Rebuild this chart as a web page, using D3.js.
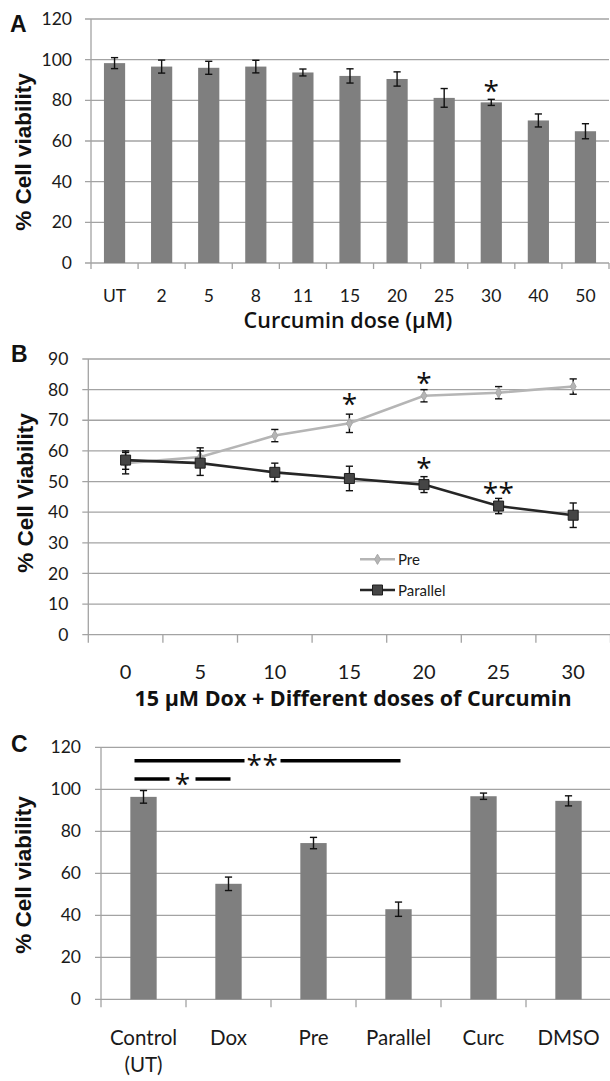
<!DOCTYPE html>
<html>
<head>
<meta charset="utf-8">
<script src="https://cdn.jsdelivr.net/npm/d3@7"></script>
<style>
body { margin: 0; background: #fff; }
svg text { fill: #1a1a1a; }
.tick text, .cat-label { font-family: Lato, 'Open Sans', sans-serif; }
.axis-title { font-family: 'Liberation Sans', Arial, sans-serif; font-weight: bold; fill: #111; }
.x-title { font-family: 'Open Sans', Lato, sans-serif; fill: #111; }
.star { font-family: 'Open Sans', sans-serif; fill: #111; }
</style>
</head>
<body>
<div id="figure"></div>
<script>
// Panel A: curcumin alone
var doseLabelsA = ['UT', '2', '5', '8', '11', '15', '20', '25', '30', '40', '50'];
var viabilityA = [98.3, 96.6, 96, 96.6, 93.7, 92, 90.5, 81.2, 79, 70.1, 64.8];
var errorA = [2.7, 3.2, 3.2, 3.1, 1.7, 3.5, 3.5, 4.6, 1.5, 3.2, 3.7];
var yTicksA = [0, 20, 40, 60, 80, 100, 120];
var starsA = [{ label: '30', mark: '*', at: 86.6 }];

// Panel B: dox + curcumin, pre vs parallel
var doseLabelsB = ['0', '5', '10', '15', '20', '25', '30'];
var seriesNamesB = ['Pre', 'Parallel'];
var preValuesB = [56, 58, 65, 69, 78, 79, 81];
var preErrorB = [3.5, 3, 2, 3, 2, 2, 2.5];
var parallelValuesB = [57, 56, 53, 51, 49, 42, 39];
var parallelErrorB = [3, 4, 3, 4, 2.6, 2.5, 4];
var yTicksB = [0, 10, 20, 30, 40, 50, 60, 70, 80, 90];
var starsB = [
	{ series: 'Pre', label: '15', mark: '*', at: 76.7 },
	{ series: 'Pre', label: '20', mark: '*', at: 83.8 },
	{ series: 'Parallel', label: '20', mark: '*', at: 56 },
	{ series: 'Parallel', label: '25', mark: '**', at: 47.6 }
];

// Panel C: treatment groups
var groupLabelsC = ['Control\n(UT)', 'Dox', 'Pre', 'Parallel', 'Curc', 'DMSO'];
var viabilityC = [96.4, 55, 74.4, 42.9, 96.7, 94.5];
var errorC = [3, 3.2, 2.7, 3.4, 1.5, 2.4];
var yTicksC = [0, 20, 40, 60, 80, 100, 120];
var bracketsC = [
	{ from: 'Control\n(UT)', to: 'Parallel', mark: '**', at: 113.6 },
	{ from: 'Control\n(UT)', to: 'Dox', mark: '*', at: 104.9 }
];

var GRID = '#a3a3a3';
var BAR = '#7f7f7f';
var STAR_SIZE = 28;

var svg = d3.select('#figure')
	.append('svg')
	.attr('width', 610)
	.attr('height', 1081);

svg.append('rect').attr('width', 610).attr('height', 1081).attr('fill', '#fff');

/*
 * Shared frame: gridlines, y axis, category ticks, labels, titles.
 */
var renderFrame = function(config, xScale, yScale) {
	var g = config.g;

	g.append('g')
		.attr('class', 'grid')
		.selectAll('line')
		.data(config.yTicks)
		.enter()
		.append('line')
		.attr('x1', config.left - 6)
		.attr('x2', config.right)
		.attr('y1', function(d) { return yScale(d); })
		.attr('y2', function(d) { return yScale(d); })
		.attr('stroke', GRID)
		.attr('stroke-width', 1.3);

	g.append('line')
		.attr('x1', config.left)
		.attr('x2', config.left)
		.attr('y1', config.top)
		.attr('y2', config.bottom + config.tickLen)
		.attr('stroke', GRID)
		.attr('stroke-width', 1.3);

	// tick marks between categories
	var edges = xScale.domain().map(function(d) { return xScale(d); });
	edges.push(config.right);
	g.append('g')
		.selectAll('line')
		.data(edges.slice(1))
		.enter()
		.append('line')
		.attr('x1', function(d) { return d; })
		.attr('x2', function(d) { return d; })
		.attr('y1', config.bottom)
		.attr('y2', config.bottom + config.tickLen)
		.attr('stroke', GRID)
		.attr('stroke-width', 1.3);

	var yAxis = d3.axisLeft(yScale)
		.tickValues(config.yTicks)
		.tickSize(0)
		.tickPadding(config.yPad);

	var ya = g.append('g')
		.attr('transform', 'translate(' + config.left + ',0)')
		.call(yAxis);
	ya.select('.domain').remove();
	ya.selectAll('text')
		.style('font-size', config.yFont + 'px')
		.attr('fill', '#1a1a1a');

	var xAxis = d3.axisBottom(xScale)
		.tickSize(0)
		.tickPadding(config.xPad);

	var xa = g.append('g')
		.attr('transform', 'translate(0,' + config.bottom + ')')
		.call(xAxis);
	xa.select('.domain').remove();
	xa.selectAll('text')
		.style('font-size', config.xFont + 'px')
		.attr('fill', '#1a1a1a')
		.each(function(d) {
			var el = d3.select(this);
			var lines = d.split('\n');
			if (lines.length > 1) {
				el.text(null);
				lines.forEach(function(line, i) {
					el.append('tspan')
						.attr('x', 0)
						.attr('dy', i == 0 ? '0.71em' : '1.3em')
						.text(line);
				});
				el.attr('dy', null);
			}
		});

	// y title
	g.append('text')
		.attr('class', 'axis-title')
		.attr('transform', 'translate(' + config.yTitleX + ',' + config.yTitleY + ') rotate(-90)')
		.attr('text-anchor', 'middle')
		.style('font-size', '22.5px')
		.text(config.yTitle);

	// x title
	if (config.xTitle) {
		g.append('text')
			.attr('class', 'x-title')
			.attr('x', config.xTitleX)
			.attr('y', config.xTitleY)
			.attr('text-anchor', 'middle')
			.style('font-size', config.xTitleFont + 'px')
			.style('font-weight', config.xTitleWeight)
			.text(config.xTitle);
	}

	// panel letter
	g.append('text')
		.attr('class', 'axis-title')
		.attr('x', config.letterX)
		.attr('y', config.letterY)
		.style('font-size', '23px')
		.text(config.letter);
};

var drawErrorBar = function(g, x, yScale, v, e) {
	var cap = 3.6;
	g.append('line')
		.attr('x1', x).attr('x2', x)
		.attr('y1', yScale(v + e)).attr('y2', yScale(v - e))
		.attr('stroke', '#111').attr('stroke-width', 1.4);
	[v + e, v - e].forEach(function(c) {
		g.append('line')
			.attr('x1', x - cap).attr('x2', x + cap)
			.attr('y1', yScale(c)).attr('y2', yScale(c))
			.attr('stroke', '#111').attr('stroke-width', 1.4);
	});
};

var drawStar = function(g, x, y, mark) {
	g.append('text')
		.attr('class', 'star')
		.attr('x', x)
		.attr('y', y + STAR_SIZE * 0.52)
		.attr('text-anchor', 'middle')
		.style('font-size', STAR_SIZE + 'px')
		.style('letter-spacing', mark.length > 1 ? '0.5px' : null)
		.text(mark);
};

/*
 * Bar chart with error bars (panels A and C).
 */
var renderBarPanel = function(config) {
	var g = svg.append('g');
	config.g = g;

	var xScale = d3.scaleBand()
		.domain(config.labels)
		.range([config.left, config.right])
		.padding(0);

	var yScale = d3.scaleLinear()
		.domain([0, config.yMax])
		.range([config.bottom, config.top]);

	renderFrame(config, xScale, yScale);

	var bw = xScale.bandwidth() * config.barRatio;

	g.append('g')
		.selectAll('rect')
		.data(config.values)
		.enter()
		.append('rect')
		.attr('x', function(d, i) { return xScale(config.labels[i]) + (xScale.bandwidth() - bw) / 2; })
		.attr('width', bw)
		.attr('y', function(d) { return yScale(d); })
		.attr('height', function(d) { return config.bottom - yScale(d); })
		.attr('fill', BAR);

	var eg = g.append('g');
	config.values.forEach(function(v, i) {
		var cx = xScale(config.labels[i]) + xScale.bandwidth() / 2;
		drawErrorBar(eg, cx, yScale, v, config.errors[i]);
	});

	(config.stars || []).forEach(function(s) {
		drawStar(g, xScale(s.label) + xScale.bandwidth() / 2, yScale(s.at), s.mark);
	});

	(config.brackets || []).forEach(function(b) {
		var x1 = xScale(b.from) + xScale.bandwidth() / 2 - 9;
		var x2 = xScale(b.to) + xScale.bandwidth() / 2 + 2;
		var mid = (x1 + x2) / 2 - (b.mark.length > 1 ? 5 : 0);
		var gap = 16 + 10 * b.mark.length;
		var y = yScale(b.at);
		[[x1, mid - gap / 2], [mid + gap / 2, x2]].forEach(function(seg) {
			g.append('line')
				.attr('x1', seg[0]).attr('x2', seg[1])
				.attr('y1', y).attr('y2', y)
				.attr('stroke', '#000')
				.attr('stroke-width', 3.3);
		});
		drawStar(g, mid, y, b.mark);
	});
};

/*
 * Line chart with error bars (panel B).
 */
var renderLinePanel = function(config) {
	var g = svg.append('g');
	config.g = g;

	var xScale = d3.scaleBand()
		.domain(config.labels)
		.range([config.left, config.right])
		.padding(0);

	var yScale = d3.scaleLinear()
		.domain([0, config.yMax])
		.range([config.bottom, config.top]);

	renderFrame(config, xScale, yScale);

	var cx = function(label) {
		return xScale(label) + xScale.bandwidth() / 2;
	};

	var line = d3.line()
		.x(function(d, i) { return cx(config.labels[i]); })
		.y(function(d) { return yScale(d); });

	config.series.forEach(function(s) {
		var sg = g.append('g');
		sg.append('path')
			.attr('d', line(s.values))
			.attr('fill', 'none')
			.attr('stroke', s.color)
			.attr('stroke-width', 2.6);

		s.values.forEach(function(v, i) {
			drawErrorBar(sg, cx(config.labels[i]), yScale, v, s.errors[i]);
		});

		sg.selectAll('path.marker')
			.data(s.values)
			.enter()
			.append('path')
			.attr('class', 'marker')
			.attr('d', d3.symbol().type(s.symbol).size(s.symbolSize))
			.attr('transform', function(d, i) {
				return 'translate(' + cx(config.labels[i]) + ',' + yScale(d) + ')';
			})
			.attr('fill', s.fill)
			.attr('stroke', s.stroke)
			.attr('stroke-width', 1);
	});

	config.stars.forEach(function(s) {
		drawStar(g, cx(s.label), yScale(s.at), s.mark);
	});

	// legend
	var lg = g.append('g');
	config.series.forEach(function(s, i) {
		var y = config.legendY[i];
		lg.append('line')
			.attr('x1', config.legendX).attr('x2', config.legendX + 35)
			.attr('y1', y).attr('y2', y)
			.attr('stroke', s.color)
			.attr('stroke-width', 2.6);
		lg.append('path')
			.attr('d', d3.symbol().type(s.symbol).size(s.symbolSize))
			.attr('transform', 'translate(' + (config.legendX + 17.5) + ',' + y + ')')
			.attr('fill', s.fill)
			.attr('stroke', s.stroke);
		lg.append('text')
			.attr('class', 'cat-label')
			.attr('x', config.legendX + 38)
			.attr('y', y + 5.5)
			.style('font-size', '15px')
			.text(s.name);
	});
};

renderBarPanel({
	letter: 'A', letterX: 10, letterY: 32,
	labels: doseLabelsA, values: viabilityA, errors: errorA, stars: starsA,
	yTicks: yTicksA, yMax: 120,
	left: 91, right: 609, top: 19, bottom: 263,
	tickLen: 6, barRatio: 0.45,
	yFont: 17.5, yPad: 19, xFont: 17.5, xPad: 26.5,
	yTitle: '% Cell viability', yTitleX: 31, yTitleY: 152,
	xTitle: 'Curcumin dose (\u00b5M)', xTitleX: 348, xTitleY: 328, xTitleFont: 21.5, xTitleWeight: 600
});

renderLinePanel({
	letter: 'B', letterX: 11, letterY: 362,
	labels: doseLabelsB,
	series: [
		{ name: seriesNamesB[0], values: preValuesB, errors: preErrorB, color: '#b5b5b5',
			fill: '#b5b5b5', stroke: '#a8a8a8', symbol: d3.symbolDiamond, symbolSize: 30 },
		{ name: seriesNamesB[1], values: parallelValuesB, errors: parallelErrorB, color: '#262626',
			fill: '#454545', stroke: '#1e1e1e', symbol: d3.symbolSquare, symbolSize: 100 }
	],
	stars: starsB,
	yTicks: yTicksB, yMax: 90,
	left: 88.3, right: 610.5, top: 359, bottom: 634.7,
	tickLen: 8,
	yFont: 17.5, yPad: 20, xFont: 20, xPad: 30.5,
	yTitle: '% Cell Viability', yTitleX: 33, yTitleY: 493,
	xTitle: '15 \u00b5M Dox + Different doses of Curcumin', xTitleX: 353, xTitleY: 706, xTitleFont: 21.5, xTitleWeight: 700,
	legendX: 360, legendY: [559.3, 590]
});

renderBarPanel({
	letter: 'C', letterX: 11, letterY: 752,
	labels: groupLabelsC, values: viabilityC, errors: errorC, brackets: bracketsC,
	yTicks: yTicksC, yMax: 120,
	left: 101, right: 611, top: 747.3, bottom: 999.3,
	tickLen: 8, barRatio: 0.31,
	yFont: 17.5, yPad: 20, xFont: 20.5, xPad: 31.1,
	yTitle: '% Cell viability', yTitleX: 31, yTitleY: 875
});
</script>
</body>
</html>
